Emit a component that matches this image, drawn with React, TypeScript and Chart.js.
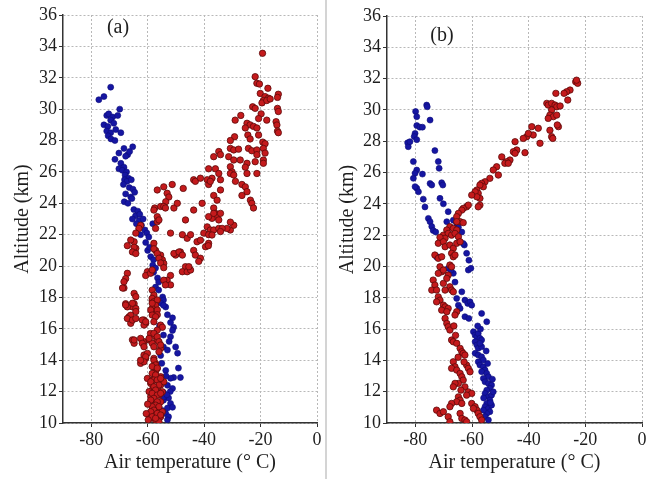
import React, { useEffect, useRef } from "react";
import { Chart, registerables } from "chart.js";

Chart.register(...registerables);

type P = [number, number];

const xTicks = [-80, -60, -40, -20, 0];
const yTicks = [10, 12, 14, 16, 18, 20, 22, 24, 26, 28, 30, 32, 34, 36];
const xTitle = "Air temperature (° C)";
const yTitle = "Altitude (km)";

const aBlue: P[] = [
  [-77.3, 30.6], [-75.5, 30.8], [-73.1, 31.4], [-69.9, 30.0], [-74.5, 29.6], [-73.8, 29.7], [-72.4, 29.5],
  [-73.1, 29.3], [-72.0, 29.1], [-70.6, 29.6], [-75.5, 29.0], [-74.1, 28.9], [-74.5, 28.6], [-73.1, 28.5],
  [-71.3, 28.7], [-69.5, 28.5], [-74.0, 28.3], [-73.0, 28.1], [-71.6, 28.0], [-68.4, 27.5], [-65.3, 27.6],
  [-67.1, 27.1], [-67.8, 27.0], [-71.6, 26.8], [-69.5, 26.55], [-66.4, 27.3], [-70.2, 27.2],
  [-70.2, 26.2], [-68.4, 26.3], [-69.0, 26.1], [-67.5, 26.0], [-68.0, 25.8], [-66.8, 25.6], [-68.2, 25.5],
  [-67.3, 25.4], [-65.8, 25.5], [-68.6, 25.2], [-66.5, 25.0], [-65.2, 24.9], [-67.8, 24.6], [-64.6, 24.7],
  [-66.0, 24.4], [-68.3, 24.1], [-67.0, 24.0], [-65.6, 24.3],
  [-64.9, 23.6], [-63.5, 23.5], [-64.3, 23.2], [-62.8, 23.3], [-65.4, 23.0], [-63.0, 22.9], [-61.6, 23.0],
  [-64.0, 22.7], [-62.2, 22.6], [-58.2, 22.7], [-61.0, 22.3], [-60.3, 22.1], [-62.5, 22.0],
  [-60.7, 21.5], [-60.0, 21.0], [-59.6, 21.85], [-59.3, 21.2], [-58.9, 20.6], [-57.9, 20.4], [-58.2, 20.06],
  [-57.2, 19.87], [-57.9, 19.6], [-56.5, 19.24], [-56.1, 18.98], [-57.2, 18.66], [-56.1, 18.47], [-54.7, 18.03],
  [-54.4, 17.84], [-55.4, 17.64], [-53.6, 17.39], [-54.4, 17.5],
  [-53.0, 16.9], [-51.2, 16.7], [-51.9, 16.4], [-50.8, 16.1], [-51.2, 15.9], [-54.4, 15.6], [-51.9, 15.5],
  [-54.4, 14.85], [-50.1, 14.85], [-53.0, 14.65], [-55.4, 14.3], [-49.4, 14.45], [-53.6, 13.35], [-49.1, 13.5],
  [-48.4, 12.9], [-50.8, 12.9], [-51.9, 12.85], [-53.0, 12.4], [-51.2, 12.2], [-54.4, 11.95], [-52.6, 11.6],
  [-54.4, 11.45], [-51.9, 11.25], [-53.0, 10.95], [-51.2, 11.0], [-53.6, 10.6], [-52.6, 10.4], [-53.0, 10.2],
  [-54.4, 11.65], [-55.4, 12.6], [-52.0, 12.0], [-53.5, 13.0], [-55.0, 13.8], [-52.4, 15.2], [-55.8, 16.2],
  [-53.2, 11.8], [-54.8, 10.8],
];

const aRed: P[] = [
  [-19.3, 33.56], [-21.9, 32.07], [-21.3, 31.65], [-20.4, 31.6], [-17.4, 31.33], [-20.1, 31.0], [-18.4, 30.8],
  [-17.2, 30.7], [-19.0, 30.55], [-19.5, 30.4], [-17.8, 30.55], [-16.6, 30.65], [-13.7, 30.95], [-14.0, 30.75],
  [-22.8, 30.15], [-21.9, 30.05], [-14.0, 30.05], [-13.7, 29.85], [-19.8, 29.7], [-20.7, 29.4], [-29.0, 29.3],
  [-27.0, 29.6], [-17.8, 29.3], [-14.5, 29.2], [-14.2, 28.99], [-24.8, 29.1], [-23.7, 29.0], [-22.5, 28.9],
  [-25.4, 28.8], [-21.3, 28.8], [-14.0, 28.6], [-13.7, 28.5], [-24.5, 28.35], [-20.7, 28.35], [-23.7, 28.1],
  [-29.2, 28.24], [-30.7, 28.0], [-19.2, 27.9], [-18.4, 27.8], [-19.0, 27.5], [-30.7, 27.5], [-29.5, 27.4],
  [-27.8, 27.45], [-24.3, 27.5], [-23.1, 27.35], [-21.3, 27.4], [-34.8, 27.3], [-34.2, 27.1], [-18.4, 27.2],
  [-21.3, 27.1], [-36.6, 26.97], [-31.3, 26.97], [-29.5, 26.76], [-27.2, 26.76], [-24.8, 26.55], [-21.9, 26.65],
  [-19.0, 26.76], [-19.0, 26.55], [-38.4, 26.2], [-36.0, 26.2], [-30.7, 26.33], [-30.1, 26.0], [-30.7, 25.9],
  [-29.5, 25.8], [-25.4, 26.3], [-24.8, 25.9], [-21.3, 25.9], [-34.8, 25.9], [-37.2, 25.6], [-34.2, 25.5],
  [-43.7, 25.5], [-43.1, 25.4], [-41.3, 25.6], [-38.9, 25.5], [-38.4, 25.2], [-37.8, 25.4], [-47.4, 24.95],
  [-51.3, 25.2], [-54.3, 25.05], [-56.6, 24.85], [-53.1, 24.64], [-28.9, 25.4], [-26.6, 25.2], [-25.4, 25.05],
  [-24.8, 24.74], [-26.6, 24.5], [-34.2, 24.85], [-36.6, 24.5], [-35.4, 24.2], [-52.5, 24.4], [-53.6, 24.1],
  [-40.7, 24.0], [-43.7, 23.57], [-23.6, 24.2], [-23.1, 24.0], [-22.5, 23.7], [-57.5, 23.7], [-55.4, 23.8],
  [-54.3, 23.8], [-50.7, 23.7], [-49.5, 24.0], [-36.6, 23.7], [-36.0, 23.36], [-35.4, 23.15], [-34.8, 22.94],
  [-37.2, 23.04], [-38.4, 23.15], [-56.6, 23.15], [-56.6, 22.83], [-46.6, 22.94], [-30.7, 22.3], [-29.5, 22.6],
  [-30.7, 22.8], [-38.9, 22.5], [-37.8, 22.3], [-36.6, 22.3], [-34.8, 22.4], [-51.9, 22.1], [-47.7, 22.0],
  [-40.1, 22.1], [-38.4, 22.0],
  [-57.8, 23.57], [-56.0, 22.94], [-53.7, 23.7], [-36.6, 23.36], [-34.2, 23.36], [-31.9, 22.4], [-33.6, 22.4],
  [-37.2, 21.98], [-34.2, 22.2], [-38.4, 21.45], [-39.5, 21.23], [-62.5, 22.6], [-63.1, 22.4], [-64.2, 22.1],
  [-57.2, 22.4], [-46.0, 21.77], [-42.5, 21.55], [-41.3, 21.65], [-44.8, 22.0], [-48.4, 20.9], [-49.5, 20.8],
  [-50.1, 20.7], [-43.7, 21.0], [-43.1, 20.7], [-41.3, 20.5], [-41.9, 20.3], [-46.6, 19.96], [-45.4, 19.75],
  [-47.7, 19.64], [-64.8, 21.55], [-64.2, 21.13], [-66.0, 21.66], [-57.8, 21.45], [-57.2, 21.0], [-55.4, 20.7],
  [-54.8, 20.4], [-54.3, 20.17], [-67.2, 19.54], [-67.8, 19.2], [-68.4, 19.0], [-60.1, 19.64], [-60.7, 19.4],
  [-51.9, 19.4], [-53.1, 19.1], [-51.9, 18.8], [-64.8, 18.26], [-64.2, 18.05], [-68.4, 18.6], [-58.4, 17.8],
  [-57.8, 17.4], [-38.5, 21.3],
  [-64.8, 21.2], [-65.4, 20.9], [-64.2, 20.8], [-67.2, 21.3], [-57.8, 21.1], [-56.6, 20.8], [-56.0, 20.5],
  [-55.4, 20.2], [-54.3, 19.9], [-50.7, 20.8], [-48.9, 20.9], [-47.7, 20.7], [-59.0, 19.54], [-58.4, 19.75],
  [-46.0, 19.64], [-44.8, 19.75], [-45.4, 19.96], [-68.9, 18.6], [-54.3, 19.1], [-53.7, 18.8], [-58.4, 18.47],
  [-57.8, 18.15], [-58.4, 17.94], [-57.8, 17.73], [-56.6, 17.84], [-57.2, 17.5], [-58.4, 17.3], [-57.8, 17.1],
  [-56.6, 17.2], [-64.8, 17.6], [-65.4, 17.4], [-64.2, 17.3], [-64.2, 17.1], [-67.8, 17.6], [-67.2, 17.4],
  [-66.6, 16.77], [-66.0, 16.56], [-66.0, 16.35], [-61.3, 16.56], [-60.7, 16.35], [-56.6, 16.9], [-55.4, 16.24],
  [-54.8, 16.1], [-65.4, 15.3], [-64.8, 15.08], [-61.3, 15.18], [-59.5, 15.3], [-59.0, 15.7], [-57.2, 15.5],
  [-56.6, 15.3], [-58.4, 15.08], [-57.8, 14.86], [-55.4, 14.76], [-56.0, 14.54], [-61.3, 14.33], [-60.7, 14.12],
  [-62.5, 13.8], [-57.8, 14.12], [-57.2, 13.8], [-57.8, 13.58], [-56.6, 13.48], [-57.2, 13.27], [-57.8, 13.16],
  [-60.1, 12.84], [-58.4, 12.74], [-57.2, 12.84], [-55.4, 12.95],
  [-58.9, 12.52], [-57.8, 12.31], [-56.6, 12.2], [-55.4, 12.42], [-54.3, 12.63], [-58.4, 12.1], [-57.2, 11.89],
  [-56.0, 11.78], [-54.8, 11.99], [-58.9, 11.67], [-57.8, 11.46], [-56.6, 11.25], [-55.4, 11.35], [-58.4, 11.04],
  [-57.2, 10.93], [-56.0, 10.83], [-54.8, 10.72], [-57.8, 10.62], [-56.6, 10.51], [-55.4, 10.4], [-59.5, 10.51],
  [-57.2, 10.19], [-56.0, 10.08], [-58.9, 10.3],
  [-67.8, 17.52], [-65.4, 17.63], [-66.0, 16.87], [-67.2, 16.66], [-65.4, 16.56], [-64.2, 16.66], [-61.9, 16.56],
  [-61.3, 16.24], [-60.7, 16.45], [-58.4, 17.63], [-58.9, 17.2], [-58.4, 16.88], [-57.2, 16.77], [-57.8, 16.45],
  [-56.6, 15.92], [-64.8, 15.29], [-62.5, 15.39], [-61.9, 15.08], [-61.3, 14.86], [-59.5, 15.39], [-57.8, 15.71],
  [-56.6, 15.5], [-56.0, 15.18], [-55.4, 14.97], [-60.1, 14.44], [-60.7, 14.22], [-61.3, 13.9], [-62.5, 14.0],
  [-57.8, 14.0], [-57.2, 13.7], [-58.4, 13.6], [-56.6, 13.5],
  [-58.4, 13.16], [-57.2, 13.06], [-57.8, 12.74], [-58.9, 12.63], [-56.6, 12.74], [-55.4, 12.84], [-56.0, 12.42],
  [-57.8, 12.31], [-57.2, 12.1], [-59.5, 12.0], [-58.4, 11.89], [-56.6, 11.78], [-55.4, 11.89], [-57.8, 11.57],
  [-58.9, 11.46], [-56.6, 11.35], [-57.2, 11.14], [-58.4, 11.04], [-56.0, 11.04], [-57.8, 10.82], [-58.9, 10.72],
  [-56.6, 10.61], [-55.4, 10.51], [-58.4, 10.4], [-57.2, 10.3], [-60.5, 10.6], [-60.0, 11.2], [-59.8, 10.2],
];

const bBlue: P[] = [
  [-76.0, 30.31], [-75.8, 30.2], [-79.9, 29.9], [-79.5, 29.57], [-74.8, 29.35], [-79.5, 29.0], [-78.4, 28.9],
  [-77.5, 28.9], [-80.1, 28.5], [-80.4, 28.3], [-79.5, 28.1], [-82.7, 27.9], [-82.5, 27.65], [-81.9, 27.97],
  [-73.1, 27.4], [-71.9, 26.7], [-71.6, 26.27], [-80.7, 26.7], [-79.5, 26.16], [-80.1, 25.95], [-80.7, 25.63],
  [-77.5, 25.9], [-74.8, 25.3], [-74.2, 25.2], [-70.7, 25.35], [-70.3, 25.2], [-79.5, 25.0], [-78.9, 24.77],
  [-80.1, 25.1], [-77.2, 24.3], [-71.3, 24.35], [-70.1, 24.0], [-76.6, 23.8], [-68.4, 23.5], [-75.4, 23.07],
  [-74.8, 22.86], [-74.2, 22.55], [-73.7, 22.3], [-68.9, 22.86], [-66.6, 22.96], [-65.4, 22.75], [-63.6, 22.2],
  [-72.8, 22.2], [-64.8, 22.5],
  [-62.7, 21.37], [-63.1, 21.47], [-61.9, 20.84], [-61.1, 20.4], [-72.5, 20.6], [-71.9, 20.6], [-61.3, 19.77],
  [-60.4, 19.88], [-68.4, 19.88], [-66.6, 19.56], [-67.4, 19.77], [-66.0, 19.0], [-63.6, 18.38], [-65.4, 17.96],
  [-62.5, 17.85], [-61.5, 17.64], [-60.7, 17.74], [-60.1, 17.53], [-64.8, 17.53], [-64.2, 17.32], [-62.5, 16.79],
  [-61.1, 16.68], [-56.6, 17.0], [-54.8, 16.47],
  [-59.5, 15.83], [-58.9, 15.62], [-58.3, 15.51], [-57.8, 15.72], [-57.2, 15.41], [-56.6, 15.3], [-58.9, 15.19],
  [-58.3, 14.98], [-57.8, 14.77], [-56.6, 14.87], [-57.2, 15.09], [-58.9, 14.45], [-57.8, 14.34], [-56.6, 14.23],
  [-56.0, 14.02], [-57.8, 13.91], [-57.2, 13.7], [-56.0, 13.59], [-55.4, 13.38], [-56.6, 13.28], [-54.8, 13.17],
  [-54.2, 12.95], [-56.0, 12.85], [-55.4, 12.63], [-54.2, 12.53], [-53.1, 12.42], [-53.7, 12.21], [-54.8, 12.1],
  [-55.4, 11.89], [-54.2, 11.68], [-53.1, 11.78], [-53.7, 11.46], [-54.8, 11.25], [-55.4, 11.04], [-54.2, 10.93],
  [-53.7, 10.72], [-54.8, 10.61], [-55.4, 10.4], [-54.2, 10.19], [-56.0, 10.82], [-52.5, 11.99], [-53.1, 11.14],
  [-55.0, 14.6], [-57.0, 16.0], [-58.0, 16.2], [-52.8, 12.8], [-53.5, 11.3], [-55.9, 11.6], [-54.5, 13.8],
];

const bRed: P[] = [
  [-23.4, 31.8], [-22.7, 31.7], [-23.1, 31.9], [-25.4, 31.27], [-26.6, 31.16], [-27.5, 31.06], [-26.2, 30.63],
  [-30.4, 31.06], [-33.6, 30.42], [-33.1, 30.31], [-31.9, 30.42], [-30.7, 30.31], [-30.1, 30.2], [-28.9, 30.25],
  [-31.9, 30.0], [-32.5, 29.67], [-31.3, 29.57], [-33.1, 29.46], [-30.1, 29.67], [-29.5, 28.93], [-29.9, 29.04],
  [-32.5, 28.7], [-31.9, 28.29], [-31.5, 28.18], [-38.9, 28.93], [-38.4, 28.4], [-40.7, 28.29], [-40.1, 28.5],
  [-41.9, 28.18], [-36.6, 28.83], [-36.0, 27.87], [-41.3, 27.27], [-44.8, 27.97], [-44.2, 27.44], [-45.4, 27.33],
  [-44.8, 27.23], [-46.6, 26.8], [-47.8, 26.69], [-48.4, 26.59], [-49.5, 27.0], [-47.2, 26.59], [-51.3, 26.37],
  [-50.7, 25.84], [-52.5, 26.16], [-53.7, 25.63], [-55.4, 25.41], [-56.6, 25.31], [-56.0, 25.09], [-57.2, 25.2],
  [-58.3, 24.88], [-57.8, 24.67], [-58.9, 24.77], [-57.2, 24.35], [-58.3, 24.45], [-60.1, 24.56], [-57.2, 23.92],
  [-57.8, 23.81], [-61.9, 23.81], [-61.3, 23.92], [-63.1, 23.71], [-63.6, 23.6], [-64.8, 23.39], [-65.4, 23.18],
  [-64.2, 22.86], [-63.1, 22.8], [-65.4, 22.86], [-67.8, 22.54], [-66.6, 22.43], [-65.4, 22.33], [-68.9, 22.33],
  [-70.1, 22.0], [-68.4, 22.11], [-67.2, 22.0], [-66.0, 22.11], [-64.8, 21.9], [-69.5, 21.8], [-71.3, 21.86],
  [-71.9, 21.48], [-70.1, 21.58], [-69.5, 21.26], [-67.8, 21.37], [-66.6, 21.16], [-65.4, 21.48], [-64.2, 21.58],
  [-73.1, 20.73], [-71.9, 20.52], [-70.7, 20.62], [-67.2, 20.84], [-66.6, 20.62], [-66.0, 20.73], [-71.3, 19.98],
  [-70.7, 19.66], [-71.9, 19.56], [-70.1, 19.77], [-67.8, 20.09], [-67.2, 19.98], [-68.4, 19.45], [-73.7, 19.13],
  [-73.1, 18.81], [-74.2, 18.49], [-72.5, 18.49], [-70.1, 18.92], [-68.9, 19.24], [-67.8, 18.7], [-67.2, 18.49],
  [-66.6, 18.38], [-69.5, 18.49], [-71.9, 18.06], [-71.3, 17.85], [-72.5, 17.74], [-70.1, 17.53], [-69.5, 17.42],
  [-68.4, 17.32], [-70.7, 17.21], [-68.9, 17.11], [-65.4, 17.11], [-66.0, 16.9], [-69.5, 16.68], [-68.9, 16.36],
  [-68.4, 16.15], [-67.8, 15.94], [-67.2, 15.3], [-66.6, 15.19], [-65.4, 15.09], [-64.2, 14.77], [-63.6, 14.55],
  [-63.1, 14.45], [-62.5, 14.34], [-66.6, 13.91], [-66.0, 13.59], [-67.2, 13.49], [-65.4, 13.38], [-61.9, 13.7],
  [-61.3, 13.49], [-60.7, 13.27], [-64.2, 13.17], [-63.6, 12.95], [-63.1, 12.74], [-64.8, 12.53], [-66.0, 12.53],
  [-66.6, 12.31], [-62.5, 12.31], [-61.3, 11.99], [-60.1, 11.89], [-61.9, 11.78], [-64.8, 11.67], [-64.2, 11.46],
  [-65.4, 11.36], [-63.6, 11.25], [-67.2, 11.25], [-67.8, 11.04], [-60.1, 11.25], [-58.9, 11.04], [-58.3, 10.82],
  [-59.5, 10.93], [-57.8, 10.61], [-57.2, 10.4], [-72.5, 10.82], [-71.3, 10.61], [-70.1, 10.72], [-68.4, 10.4],
  [-67.8, 10.08], [-64.2, 10.61], [-63.6, 10.29], [-62.5, 10.19], [-61.9, 10.08], [-56.6, 10.19],
  [-65.8, 15.6], [-66.4, 16.2], [-64.9, 14.2], [-62.8, 13.9], [-63.9, 12.1],
];

const FONT = '"Liberation Serif", "Times New Roman", serif';
const TEXT = "#1e1e1e";
const H = 479;

type PanelProps = {
  label: string;
  red: P[];
  blue: P[];
  width: number;
  chartLeft: number;
  chartRight: number;
  chartTop: number;
  chartBottom: number;
  labelX: number;
  labelY: number;
  yTitlePad: number;
};

function Panel(props: PanelProps) {
  const ref = useRef<HTMLCanvasElement | null>(null);
  useEffect(() => {
    const canvas = ref.current;
    if (!canvas) return;
    const { label, red, blue, width, chartLeft, chartRight, chartTop, chartBottom, labelX, labelY, yTitlePad } = props;
    const labelPlugin = {
      id: "panelLabel",
      afterDraw(chart: any) {
        const ctx = chart.ctx;
        ctx.save();
        ctx.font = `20px ${FONT}`;
        ctx.fillStyle = TEXT;
        ctx.textAlign = "center";
        ctx.textBaseline = "middle";
        ctx.fillText(label, labelX, labelY);
        ctx.restore();
      },
    };
    const gridCommon = {
      color: "#b8b8b8",
      lineWidth: 1,
      borderDash: [2, 2],
      tickLength: 4,
      tickColor: "#333",
      tickWidth: 1,
      tickBorderDash: [],
    };
    const chart = new Chart(canvas, {
      type: "scatter",
      data: {
        datasets: [
          {
            label: "red",
            data: red.map(([x, y]) => ({ x, y })),
            backgroundColor: "#c41a1c",
            borderColor: "#5c0a0a",
            borderWidth: 0.8,
            pointRadius: 3.2,
          },
          {
            label: "blue",
            data: blue.map(([x, y]) => ({ x, y })),
            backgroundColor: "#1616a2",
            borderColor: "#0c0c78",
            borderWidth: 0.6,
            pointRadius: 3,
          },
        ],
      },
      options: {
        animation: false,
        responsive: false,
        maintainAspectRatio: false,
        layout: { padding: { left: 0, right: width - chartRight, top: chartTop, bottom: 0 } },
        plugins: { legend: { display: false }, tooltip: { enabled: false } },
        scales: {
          x: {
            type: "linear",
            min: -90,
            max: 0,
            afterBuildTicks: (s: any) => {
              s.ticks = xTicks.map((v) => ({ value: v }));
            },
            afterFit: (s: any) => {
              s.height = H - chartBottom;
            },
            ticks: { font: { family: FONT, size: 18 }, color: TEXT, padding: 2, maxRotation: 0 },
            grid: gridCommon,
            border: { color: "#333", width: 1.5, dash: [2, 2] },
            title: {
              display: true,
              text: xTitle,
              font: { family: FONT, size: 20 },
              color: TEXT,
              padding: { top: 0, bottom: 4 },
            },
          },
          y: {
            type: "linear",
            min: 10,
            max: 36,
            afterBuildTicks: (s: any) => {
              s.ticks = yTicks.map((v) => ({ value: v }));
            },
            afterFit: (s: any) => {
              s.width = chartLeft;
            },
            ticks: { font: { family: FONT, size: 18 }, color: TEXT, padding: 2 },
            grid: gridCommon,
            border: { color: "#333", width: 1.5, dash: [2, 2] },
            title: {
              display: true,
              text: yTitle,
              font: { family: FONT, size: 20 },
              color: TEXT,
              padding: { top: yTitlePad, bottom: 0 },
            },
          },
        },
      } as any,
      plugins: [labelPlugin],
    });
    return () => chart.destroy();
  }, []);
  return <canvas ref={ref} width={props.width} height={H} style={{ display: "block" }} />;
}

export default function App() {
  return (
    <div
      style={{
        position: "fixed",
        left: 0,
        top: 0,
        width: 655,
        height: H,
        background: "#fff",
        overflow: "hidden",
      }}
    >
      <div style={{ position: "absolute", left: 0, top: 0 }}>
        <Panel
          label="(a)"
          red={aRed}
          blue={aBlue}
          width={325}
          chartLeft={63}
          chartRight={317}
          chartTop={15}
          chartBottom={423}
          labelX={118}
          labelY={28}
          yTitlePad={11}
        />
      </div>
      <div style={{ position: "absolute", left: 325, top: 0, width: 2, height: H, background: "#d4d4d4" }} />
      <div style={{ position: "absolute", left: 327, top: 0 }}>
        <Panel
          label="(b)"
          red={bRed}
          blue={bBlue}
          width={328}
          chartLeft={60}
          chartRight={315}
          chartTop={16}
          chartBottom={423}
          labelX={115}
          labelY={36}
          yTitlePad={9}
        />
      </div>
    </div>
  );
}
